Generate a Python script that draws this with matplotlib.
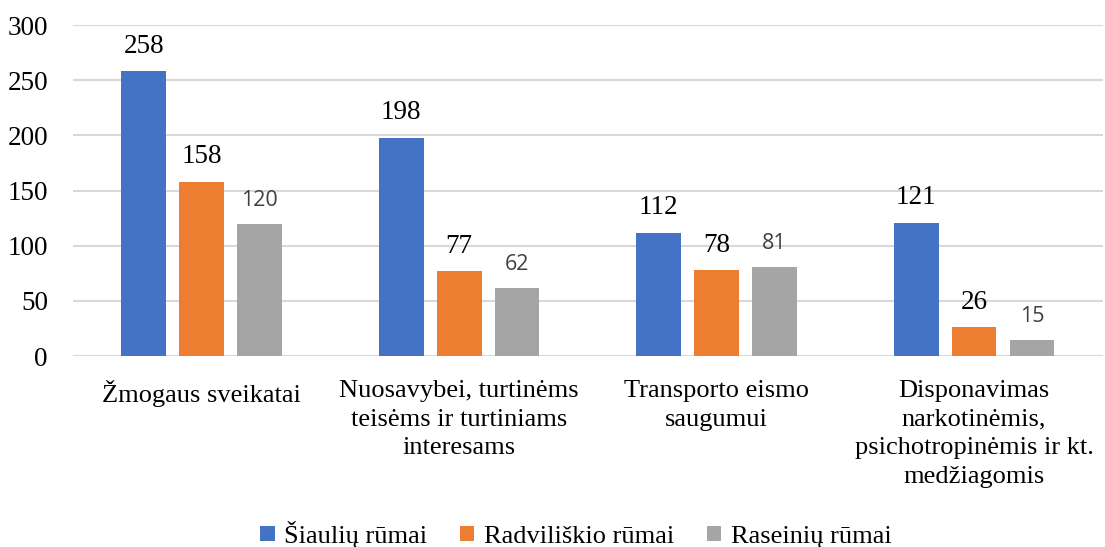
import matplotlib

matplotlib.use("Agg")
import matplotlib.pyplot as plt
import numpy as np

categories = [
    "Žmogaus sveikatai",
    "Nuosavybei, turtinėms\nteisėms ir turtiniams\ninteresams",
    "Transporto eismo\nsaugumui",
    "Disponavimas\nnarkotinėmis,\npsichotropinėmis ir kt.\nmedžiagomis",
]
series_names = ["Šiaulių rūmai", "Radviliškio rūmai", "Raseinių rūmai"]
siauliai = [258, 198, 112, 121]
radviliskis = [158, 77, 78, 26]
raseiniai = [120, 62, 81, 15]
y_ticks = [0, 50, 100, 150, 200, 250, 300]

colors = ["#4472c4", "#ed7d31", "#a5a5a5"]
serif = "Liberation Serif"

fig = plt.figure(figsize=(11.05, 5.47), dpi=100)
ax = fig.add_axes([0.066, 0.349, 0.932, 0.605])

x = np.arange(len(categories))
width = 0.174
step = 0.225
all_series = [siauliai, radviliskis, raseiniai]
for i, (vals, name, col) in enumerate(zip(all_series, series_names, colors)):
    bars = ax.bar(x + (i - 1) * step, vals, width, color=col, label=name, zorder=3)
    if i < 2:
        ax.bar_label(bars, padding=9, fontsize=19.5, family=serif, color="black")
    else:
        ax.bar_label(bars, padding=9, fontsize=15.5, family="Open Sans", color="#404040")

ax.set_xlim(-0.5, len(categories) - 0.5)
ax.set_ylim(0, 300)
ax.set_yticks(y_ticks)
ax.set_xticks(x)
ax.set_xticklabels(categories, fontsize=19, family=serif, linespacing=1.4)
for lab in ax.get_yticklabels():
    lab.set_fontsize(19.5)
    lab.set_family(serif)
ax.tick_params(axis="both", length=0)
ax.tick_params(axis="y", pad=18)
ax.tick_params(axis="x", pad=17)
ax.grid(axis="y", color="#d9d9d9", linewidth=1.5, zorder=0)
for s in ax.spines.values():
    s.set_visible(False)

fig.legend(loc="lower center", bbox_to_anchor=(0.521, -0.045), ncol=3, frameon=False,
           prop={"family": serif, "size": 19}, handlelength=0.55, handleheight=0.55,
           handletextpad=0.35, columnspacing=1.25)

plt.savefig("out.png", dpi=100)
